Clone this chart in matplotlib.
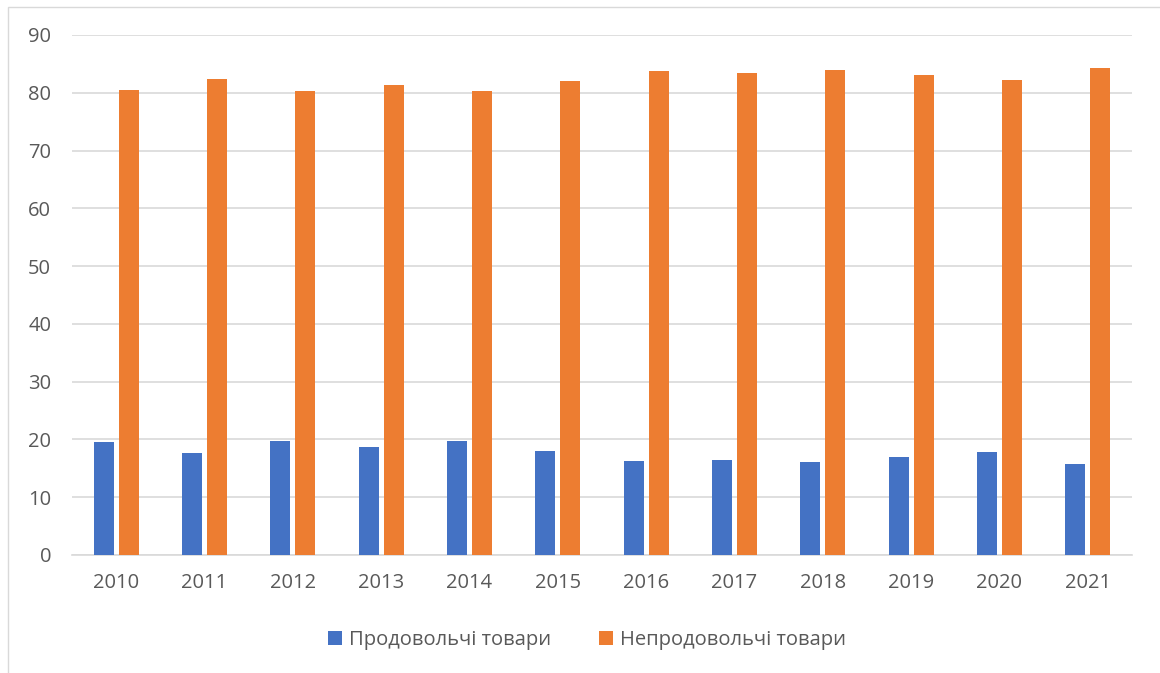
import numpy as np
import matplotlib
matplotlib.use("Agg")
import matplotlib.pyplot as plt
from matplotlib.patches import Rectangle

plt.rcParams['font.family'] = ['Open Sans', 'DejaVu Sans']

# data
years = ['2010', '2011', '2012', '2013', '2014', '2015',
         '2016', '2017', '2018', '2019', '2020', '2021']
food = [19.5, 17.7, 19.7, 18.7, 19.7, 18.0, 16.2, 16.5, 16.1, 16.9, 17.8, 15.7]
nonfood = [80.5, 82.3, 80.3, 81.3, 80.3, 82.0, 83.8, 83.5, 83.9, 83.1, 82.2, 84.3]
series_names = ['Продовольчі товари', 'Непродовольчі товари']
yticks = [0, 10, 20, 30, 40, 50, 60, 70, 80, 90]

blue = '#4472C4'
orange = '#ED7D31'
grid = '#D9D9D9'
text_col = '#595959'

fig = plt.figure(figsize=(11.6, 6.73), dpi=100)
# outer chart border
fig.patches.append(Rectangle((8 / 1160, -0.01), 1.02, 1 - 7 / 673 + 0.01,
                             transform=fig.transFigure, fill=False,
                             edgecolor=grid, linewidth=1))

ax = fig.add_axes([72 / 1160, 1 - 555 / 673, 1060 / 1160, 520 / 673])

x = np.arange(len(years))
w = 0.226
off = 0.142
ax.bar(x - off, food, width=w, color=blue, label=series_names[0], zorder=3)
ax.bar(x + off, nonfood, width=w, color=orange, label=series_names[1], zorder=3)

ax.set_xlim(-0.5, len(years) - 0.5)
ax.set_ylim(0, 90)
ax.set_yticks(yticks)
ax.set_xticks(x)
ax.set_xticklabels(years)
ax.yaxis.grid(True, color=grid, linewidth=1.2, zorder=0)
ax.set_axisbelow(True)
for s in ['top', 'right', 'left']:
    ax.spines[s].set_visible(False)
ax.spines['bottom'].set_color(grid)
ax.spines['bottom'].set_linewidth(1.2)
ax.tick_params(axis='both', length=0, labelsize=14.5, colors=text_col)
ax.tick_params(axis='y', pad=15)
ax.tick_params(axis='x', pad=13)

leg = fig.legend(loc='center', bbox_to_anchor=(587 / 1160, 1 - 640 / 673),
                 ncol=2, frameon=False, fontsize=14.5, handlelength=0.72,
                 handleheight=0.72, handletextpad=0.35, columnspacing=2.35)
for t in leg.get_texts():
    t.set_color(text_col)

fig.savefig('out.png', dpi=100)
